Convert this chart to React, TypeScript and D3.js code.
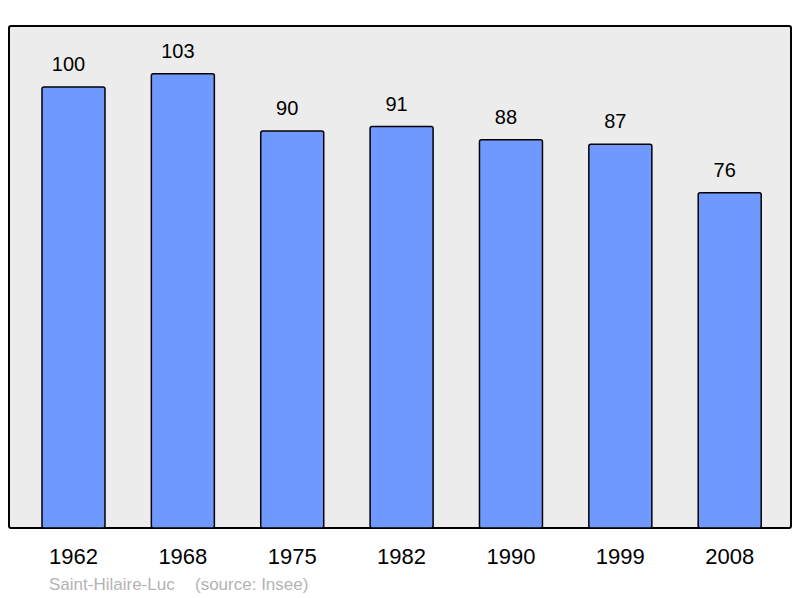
import { useEffect } from 'react'
import * as d3 from 'd3'

const years = ['1962', '1968', '1975', '1982', '1990', '1999', '2008']
const population = [100, 103, 90, 91, 88, 87, 76]
const placeName = 'Saint-Hilaire-Luc'
const sourceNote = '(source: Insee)'

const W = 800
const H = 598
const frame = { left: 9, top: 26, right: 791, bottom: 528 }
const font = '"Liberation Sans", Arial, sans-serif'

export default function App() {
  useEffect(() => {
    document.body.style.margin = '0'
  }, [])

  const x = d3.scaleBand<string>()
    .domain(years)
    .range([18.8, 784.4])
    .paddingInner(0.424)
    .paddingOuter(0.212)

  const y = d3.scaleLinear().domain([0, 113.8]).range([frame.bottom, frame.top])

  return (
    <svg width={W} height={H} style={{ display: 'block' }} fontFamily={font}>
      <rect x={0} y={0} width={W} height={H} fill="#ffffff" />
      <rect
        x={frame.left}
        y={frame.top}
        width={frame.right - frame.left}
        height={frame.bottom - frame.top}
        rx={2}
        fill="#ececec"
        stroke="#000"
        strokeWidth={2}
      />
      {years.map((yr, i) => {
        const bx = x(yr)!
        const top = y(population[i])
        const cx = bx + x.bandwidth() / 2
        return (
          <g key={yr}>
            <rect
              x={bx}
              y={top}
              width={x.bandwidth()}
              height={y(0) - top}
              rx={2}
              fill="#7099ff"
              stroke="#000"
              strokeWidth={1.5}
            />
            {/* value labels sit a little left of the bar centre */}
            <text x={cx - 5} y={top - 16} textAnchor="middle" fontSize={20} fill="#000">
              {population[i]}
            </text>
            <text x={cx} y={564} textAnchor="middle" fontSize={22} fill="#000">
              {yr}
            </text>
          </g>
        )
      })}
      <text x={49} y={590} fontSize={17} fill="#b3b3b3">{placeName}</text>
      <text x={195} y={590} fontSize={17} fill="#b3b3b3">{sourceNote}</text>
    </svg>
  )
}
